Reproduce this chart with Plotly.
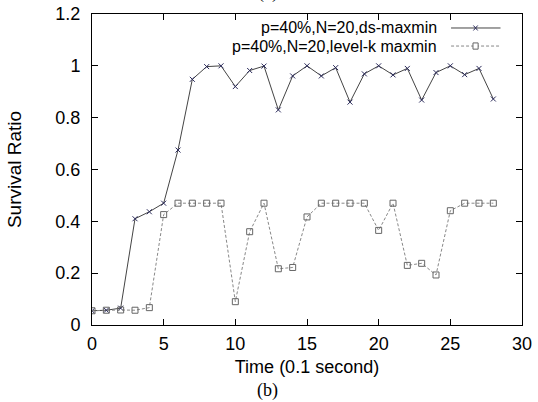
import plotly.graph_objects as go

time = list(range(29))
ds_maxmin = [0.055, 0.057, 0.065, 0.41, 0.437, 0.47, 0.675, 0.948, 0.997, 1.0,
             0.92, 0.982, 0.999, 0.83, 0.961, 1.0, 0.961, 0.993, 0.86, 0.969,
             1.0, 0.965, 0.99, 0.868, 0.974, 1.0, 0.966, 0.99, 0.872]
levelk_maxmin = [0.055, 0.057, 0.058, 0.057, 0.067, 0.426, 0.47, 0.47, 0.47, 0.47,
                 0.09, 0.36, 0.47, 0.217, 0.222, 0.417, 0.47, 0.47, 0.47, 0.47,
                 0.365, 0.47, 0.23, 0.238, 0.193, 0.441, 0.47, 0.47, 0.47]
series_names = ["p=40%,N=20,ds-maxmin", "p=40%,N=20,level-k maxmin"]

FONT = "Liberation Sans, Arial, sans-serif"
SERIF = "Liberation Serif, Times New Roman, serif"

fig = go.Figure()
fig.add_trace(go.Scatter(
    x=time, y=ds_maxmin, mode="lines+markers", name=series_names[0],
    line=dict(color="#444444", width=1),
    marker=dict(symbol="x-thin", size=5, line=dict(color="#2a2a5a", width=1)),
))
fig.add_trace(go.Scatter(
    x=time, y=levelk_maxmin, mode="lines+markers", name=series_names[1],
    line=dict(color="#888888", width=1, dash="3px,2px"),
    marker=dict(symbol="square-open", size=6, color="#666666", line=dict(width=1)),
))

axis_common = dict(
    showgrid=False, zeroline=False, showline=True, linecolor="black", linewidth=1,
    mirror="ticks", ticks="inside", ticklen=6, tickcolor="black", automargin=False,
    tickfont=dict(family=FONT, size=18, color="black"),
)
fig.update_xaxes(range=[0, 30], tick0=0, dtick=5, ticklabelstandoff=2,
                 title=dict(text="Time (0.1 second)", font=dict(family=FONT, size=18, color="black"),
                            standoff=7),
                 **axis_common)
fig.update_yaxes(range=[0, 1.2], tick0=0, dtick=0.2, ticklabelstandoff=7,
                 title=dict(text="Survival Ratio", font=dict(family=FONT, size=19, color="black"),
                            standoff=28),
                 **axis_common)

# gnuplot style key: text right-aligned, sample line on the right
key_rows = [(0.955, "solid", "#444444"), (0.897, "3px,2px", "#888888")]
for (ky, dash, col), name in zip(key_rows, series_names):
    fig.add_annotation(xref="paper", yref="paper", x=0.808, y=ky, text=name,
                       showarrow=False, xanchor="right", yanchor="middle",
                       font=dict(family=FONT, size=16, color="black"))
    fig.add_shape(type="line", xref="paper", yref="paper", x0=0.835, x1=0.95,
                  y0=ky, y1=ky, line=dict(color=col, width=1, dash=dash))
# key markers
fig.add_shape(type="line", xref="paper", yref="paper", x0=0.887, x1=0.897,
              y0=0.947, y1=0.963, line=dict(color="#2a2a5a", width=1))
fig.add_shape(type="line", xref="paper", yref="paper", x0=0.887, x1=0.897,
              y0=0.963, y1=0.947, line=dict(color="#2a2a5a", width=1))
fig.add_shape(type="rect", xref="paper", yref="paper", x0=0.886, x1=0.898,
              y0=0.887, y1=0.907, line=dict(color="#666666", width=1), fillcolor="white")

fig.add_annotation(xref="paper", yref="paper", x=0.407, y=-0.212, text="(b)", showarrow=False,
                   yanchor="middle", font=dict(family=SERIF, size=18, color="black"))
# caption of the panel above, almost entirely cut off by the top edge
fig.add_annotation(xref="paper", yref="paper", x=0.41, y=1.03, text="(a)", showarrow=False,
                   yanchor="bottom", font=dict(family=SERIF, size=18, color="black"))

fig.update_layout(
    width=538, height=402, autosize=False,
    margin=dict(l=92, r=16, t=14, b=77),
    plot_bgcolor="white", paper_bgcolor="white",
    showlegend=False,
)
# drop the browser's default 8px body margin so the figure fills the window
fig.write_html("out.html", config={"displayModeBar": False},
               post_script="document.body.style.margin='0';")
